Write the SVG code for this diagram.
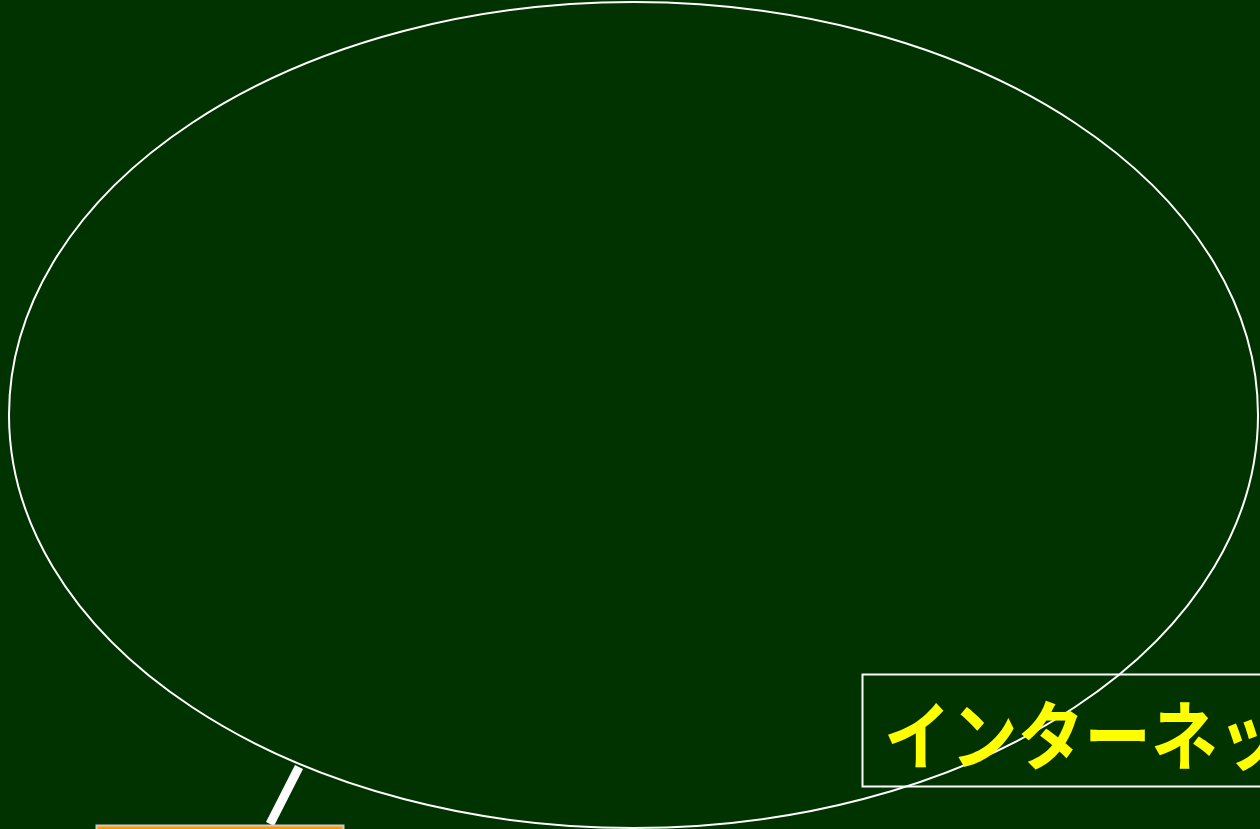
<svg xmlns="http://www.w3.org/2000/svg" width="1260" height="829" viewBox="0 0 1260 829">
<style>
.bg{fill:#003300}
.outline{fill:none;stroke:#ffffff;stroke-width:2}
.label{fill:#ffff00;font-family:"Noto Sans CJK JP","Noto Sans",sans-serif;font-weight:bold;font-size:75px}
.conn{stroke:#ffffff;stroke-width:9;fill:none}
</style>
<rect class="bg" x="0" y="0" width="1260" height="829"/>
<g id="internet">
<ellipse class="outline" cx="633.5" cy="415" rx="624.5" ry="413"/>
</g>
<g id="internet-label">
<rect class="outline" x="862.5" y="674.5" width="420" height="112"/>
<text class="label" transform="translate(884,764) scale(0.89,1)" x="0" y="0">インターネット</text>
</g>
<g id="connectors">
<line class="conn" x1="299" y1="767" x2="270" y2="824"/>
</g>
<g id="host">
<rect x="96.5" y="825.5" width="247" height="20" fill="#ff9900" stroke="#cccccc" stroke-width="2"/>
</g>
</svg>
